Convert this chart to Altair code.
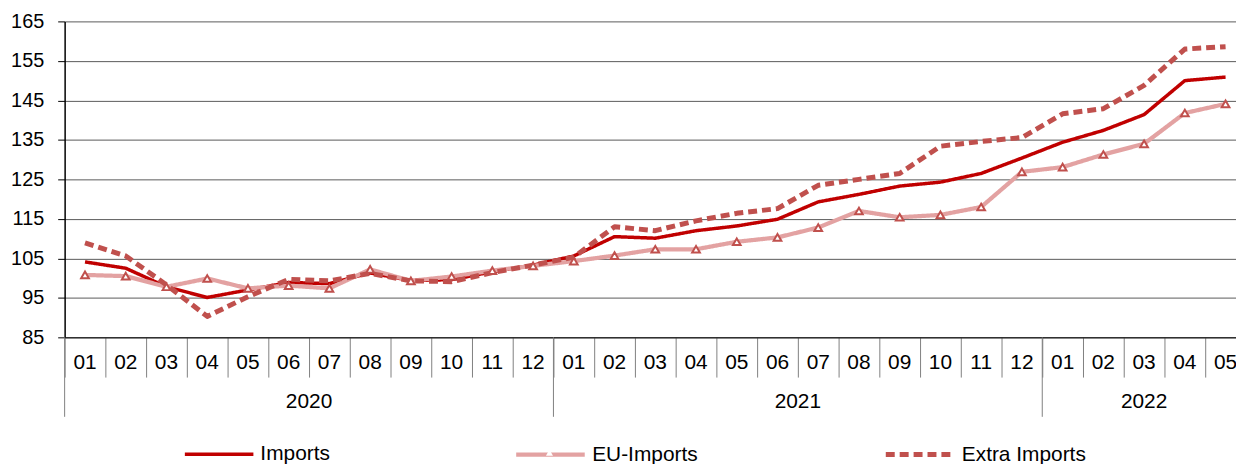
import altair as alt
import pandas as pd

# ---------------- data ----------------
month_labels = ["01", "02", "03", "04", "05", "06", "07", "08", "09", "10", "11", "12",
                "01", "02", "03", "04", "05", "06", "07", "08", "09", "10", "11", "12",
                "01", "02", "03", "04", "05"]
years = ["2020", "2021", "2022"]
year_lengths = [12, 12, 5]
series_names = ["Imports", "EU-Imports", "Extra Imports"]

imports = [104.1, 102.5, 97.8, 95.1, 97.0, 98.9, 98.6, 101.3, 99.4, 99.6, 101.6, 103.3,
           105.6, 110.5, 110.1, 112.0, 113.2, 114.9, 119.3, 121.2, 123.3, 124.3, 126.5, 130.4,
           134.4, 137.4, 141.4, 150.0, 150.9]
eu_imports = [100.8, 100.5, 97.8, 99.9, 97.4, 98.1, 97.4, 102.2, 99.3, 100.4, 101.9, 103.1,
              104.3, 105.7, 107.3, 107.3, 109.2, 110.3, 112.8, 117.0, 115.4, 116.0, 118.0, 126.9,
              128.1, 131.3, 134.0, 141.8, 144.1]
extra_imports = [108.9, 105.6, 98.3, 90.3, 95.3, 99.7, 99.3, 101.2, 99.3, 99.1, 101.4, 103.3,
                 105.3, 113.0, 112.0, 114.5, 116.4, 117.6, 123.5, 125.0, 126.5, 133.4, 134.6, 135.6,
                 141.6, 142.9, 148.8, 158.0, 158.6]
y_ticks = [85, 95, 105, 115, 125, 135, 145, 155, 165]

# ---------------- tables ----------------
rows = []
for name, vals in zip(series_names, [imports, eu_imports, extra_imports]):
    for i, v in enumerate(vals):
        rows.append({"pos": i + 0.5, "series": name, "value": v})
df = pd.DataFrame(rows)

month_df = pd.DataFrame({"pos": [i + 0.5 for i in range(len(month_labels))],
                         "label": month_labels})
starts = []
acc = 0
for n in year_lengths:
    starts.append(acc)
    acc += n
year_df = pd.DataFrame({"year": years, "start": starts,
                        "center": [s + n / 2 for s, n in zip(starts, year_lengths)]})

W, H = 1179, 318
FONT = "Liberation Sans"
x_scale = alt.Scale(domain=[0, W / 41.0], nice=False, zero=False)
y_scale = alt.Scale(domain=[85, 165], nice=False, zero=False)

colors = ["#c00000", "#e3a2a2", "#c0504d"]

legend = alt.Legend(
    title=None, orient="none", legendX=119, legendY=399, direction="horizontal",
    columnPadding=178, symbolSize=4761, symbolStrokeWidth=4, symbolType="stroke",
    labelFontSize=21, labelFont=FONT, labelColor="black", labelOffset=5, padding=0,
    zindex=0,
)

x_axis = alt.Axis(values=list(range(len(month_labels))), labels=False, tickSize=40,
                  tickColor="#808080", tickWidth=1, domainColor="#000000",
                  domainWidth=1, grid=False, title=None)
y_axis = alt.Axis(values=y_ticks, title=None, tickSize=7, labelPadding=14,
                  labelOverlap=False, grid=True, gridColor="#5a5a5a", gridWidth=1,
                  domainColor="#000000", domainWidth=1.5, tickColor="#000000",
                  labelFontSize=20, labelFont=FONT, labelColor="black")

lines = alt.Chart(df).mark_line(strokeJoin="round").encode(
    x=alt.X("pos:Q", scale=x_scale, axis=x_axis),
    y=alt.Y("value:Q", scale=y_scale, axis=y_axis),
    color=alt.Color("series:N", scale=alt.Scale(domain=series_names, range=colors),
                    legend=legend),
    strokeDash=alt.StrokeDash("series:N",
                              scale=alt.Scale(domain=series_names,
                                              range=[[1, 0], [1, 0], [9, 5]]),
                              legend=alt.Legend(title=None)),
    strokeWidth=alt.StrokeWidth("series:N",
                                scale=alt.Scale(domain=series_names, range=[3.5, 5, 3.5]),
                                legend=None),
)

points = alt.Chart(df).transform_filter(
    alt.datum.series == "EU-Imports"
).transform_calculate(marker="datum.series").mark_point(
    filled=False, fill="white", color="#c0504d", stroke="#c0504d", strokeWidth=2,
    size=60, opacity=1, fillOpacity=1
).encode(
    x=alt.X("pos:Q", scale=x_scale, axis=x_axis),
    y=alt.Y("value:Q", scale=y_scale, axis=y_axis),
    shape=alt.Shape("marker:N", scale=alt.Scale(domain=["EU-Imports"], range=["triangle-up"]),
                    legend=alt.Legend(title=None, orient="none", legendX=483, legendY=429,
                                      labelExpr="''", symbolSize=50, symbolStrokeWidth=2,
                                      symbolFillColor="white", symbolStrokeColor="#c0504d",
                                      symbolOpacity=1, padding=0, labelFontSize=1,
                                      zindex=2)),
)

month_text = alt.Chart(month_df).mark_text(
    fontSize=21, font=FONT, color="black", baseline="middle", align="center"
).encode(x=alt.X("pos:Q", scale=x_scale, axis=x_axis), y=alt.value(H + 26), text="label:N")

year_rules = alt.Chart(year_df).mark_rule(color="#808080", strokeWidth=1).encode(
    x=alt.X("start:Q", scale=x_scale, axis=x_axis), y=alt.value(H), y2=alt.value(H + 80))

year_text = alt.Chart(year_df).mark_text(
    fontSize=21, font=FONT, color="black", baseline="middle", align="center"
).encode(x=alt.X("center:Q", scale=x_scale, axis=x_axis), y=alt.value(H + 65), text="year:N")

chart = alt.layer(lines, points, month_text, year_rules, year_text).properties(
    width=W, height=H,
    autosize=alt.AutoSizeParams(type="none"),
    padding={"left": 57, "top": 12, "right": 0, "bottom": 126},
    background="white",
).configure(font=FONT).configure_view(strokeWidth=0)

chart.save("out.html", embed_options={"renderer": "svg", "actions": False})
